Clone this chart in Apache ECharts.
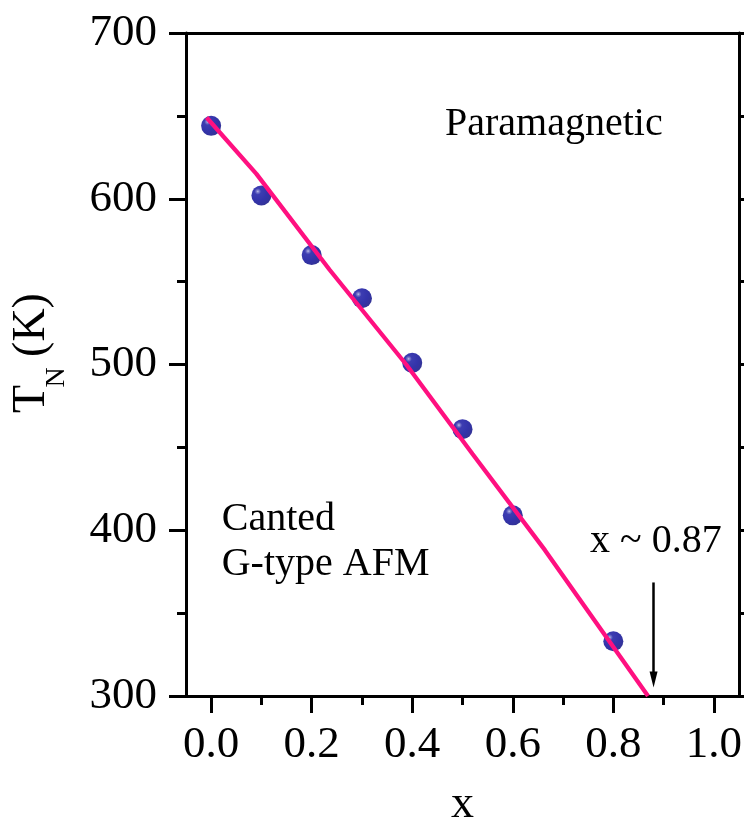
<!DOCTYPE html>
<html><head><meta charset="utf-8">
<script src="https://cdn.jsdelivr.net/npm/echarts@6/dist/echarts.min.js"></script>
<style>html,body{margin:0;padding:0;background:#fff}#c{width:744px;height:818px}</style>
</head><body><div id="c"></div>
<script>
const xValues = [0, 0.1, 0.2, 0.3, 0.4, 0.5, 0.6, 0.8];
const tnValues = [644, 602, 566, 540, 501, 461, 409, 333];
const fitX = [-0.009, 0.09, 0.236, 0.388, 0.52, 0.664, 0.869];
const fitY = [649, 615, 557, 500, 446, 388, 300];
const xMajorTicks = [0, 0.2, 0.4, 0.6, 0.8, 1.0];
const xMinorTicks = [0.1, 0.3, 0.5, 0.7, 0.9];
const arrowX = [0.88, 0.88];
const arrowY = [368.5, 310];

const FONT = '"Liberation Serif", "Times New Roman", serif';
const chart = echarts.init(document.getElementById('c'), null, {renderer: 'canvas'});

const sphere = {
  type: 'radial', x: 0.32, y: 0.3, r: 0.8,
  colorStops: [
    {offset: 0, color: '#b4b4e4'},
    {offset: 0.07, color: '#6464c4'},
    {offset: 0.2, color: '#0c0c9e'},
    {offset: 0.6, color: '#000094'},
    {offset: 1, color: '#000078'}
  ]
};

const axisLine = {show: true, onZero: false, lineStyle: {color: '#000', width: 3}};

chart.setOption({
  backgroundColor: '#fff',
  animation: false,
  grid: {left: 186, right: 5, top: 33, bottom: 122, containLabel: false, outerBoundsMode: 'none'},
  xAxis: [
    {
      type: 'value', min: -0.05, max: 1.05, position: 'bottom',
      axisLine: axisLine,
      axisTick: {show: true, inside: false, length: 17, lineStyle: {color: '#000', width: 3}, customValues: xMajorTicks},
      axisLabel: {show: true, margin: 27, fontFamily: FONT, fontSize: 45, color: '#000',
        customValues: xMajorTicks, formatter: v => v.toFixed(1)},
      splitLine: {show: false},
      name: 'x', nameLocation: 'middle', nameGap: 86,
      nameTextStyle: {fontFamily: FONT, fontSize: 46, color: '#000'}
    },
    {
      type: 'value', min: -0.05, max: 1.05, position: 'bottom',
      axisLine: {show: false, onZero: false},
      axisTick: {show: true, inside: false, length: 9, lineStyle: {color: '#000', width: 3}, customValues: xMinorTicks},
      axisLabel: {show: false},
      splitLine: {show: false}
    },
    {
      type: 'value', min: -0.05, max: 1.05, position: 'top',
      axisLine: axisLine,
      axisTick: {show: false},
      axisLabel: {show: false},
      splitLine: {show: false}
    }
  ],
  yAxis: [
    {
      type: 'value', min: 300, max: 700, interval: 100, position: 'left',
      axisLine: axisLine,
      axisTick: {show: true, inside: false, length: 17, lineStyle: {color: '#000', width: 3}},
      minorTick: {show: true, splitNumber: 2, length: 9, lineStyle: {color: '#000', width: 3}},
      axisLabel: {show: true, margin: 29, fontFamily: FONT, fontSize: 45, color: '#000'},
      splitLine: {show: false}, minorSplitLine: {show: false}
    },
    {
      type: 'value', min: 300, max: 700, interval: 100, position: 'right',
      axisLine: axisLine,
      axisTick: {show: true, inside: false, length: 17, lineStyle: {color: '#000', width: 3}},
      minorTick: {show: true, splitNumber: 2, length: 9, lineStyle: {color: '#000', width: 3}},
      axisLabel: {show: false},
      splitLine: {show: false}, minorSplitLine: {show: false}
    }
  ],
  series: [
    {
      type: 'line', xAxisIndex: 0, yAxisIndex: 0,
      data: fitX.map((x, i) => [x, fitY[i]]),
      showSymbol: false, symbol: 'none', clip: false, z: 3,
      lineStyle: {color: '#ff1080', width: 4.3}
    },
    {
      type: 'scatter', xAxisIndex: 0, yAxisIndex: 0,
      data: xValues.map((x, i) => [x, tnValues[i]]),
      symbol: 'circle', symbolSize: 20, z: 2,
      itemStyle: {color: sphere, borderWidth: 0},
      markLine: {
        silent: true, animation: false,
        symbol: ['none', 'triangle'], symbolSize: [8, 16],
        label: {show: false},
        lineStyle: {color: '#000', width: 2.5, type: 'solid'},
        data: [[{coord: [arrowX[0], arrowY[0]]}, {coord: [arrowX[1], arrowY[1]]}]]
      }
    }
  ],
  graphic: [
    {type: 'text', x: 31.5, y: 399, rotation: Math.PI / 2,
      style: {text: 'T', fontFamily: FONT, fontSize: 46, fill: '#000', align: 'center', verticalAlign: 'middle'}},
    {type: 'text', x: 56.5, y: 377.5, rotation: Math.PI / 2,
      style: {text: 'N', fontFamily: FONT, fontSize: 28, fill: '#000', align: 'center', verticalAlign: 'middle'}},
    {type: 'text', x: 31.5, y: 325, rotation: Math.PI / 2,
      style: {text: '(K)', fontFamily: FONT, fontSize: 46, fill: '#000', align: 'center', verticalAlign: 'middle'}},
    {type: 'text', x: 445, y: 124.5,
      style: {text: 'Paramagnetic', fontFamily: FONT, fontSize: 40, fill: '#000', align: 'left', verticalAlign: 'middle'}},
    {type: 'text', x: 221.7, y: 519.5,
      style: {text: 'Canted', fontFamily: FONT, fontSize: 40, fill: '#000', align: 'left', verticalAlign: 'middle'}},
    {type: 'text', x: 221.7, y: 564.5,
      style: {text: 'G-type AFM', fontFamily: FONT, fontSize: 40, fill: '#000', align: 'left', verticalAlign: 'middle'}},
    {type: 'text', x: 590, y: 541.5,
      style: {text: 'x ~ 0.87', fontFamily: FONT, fontSize: 40, fill: '#000', align: 'left', verticalAlign: 'middle'}}
  ]
});
</script></body></html>
